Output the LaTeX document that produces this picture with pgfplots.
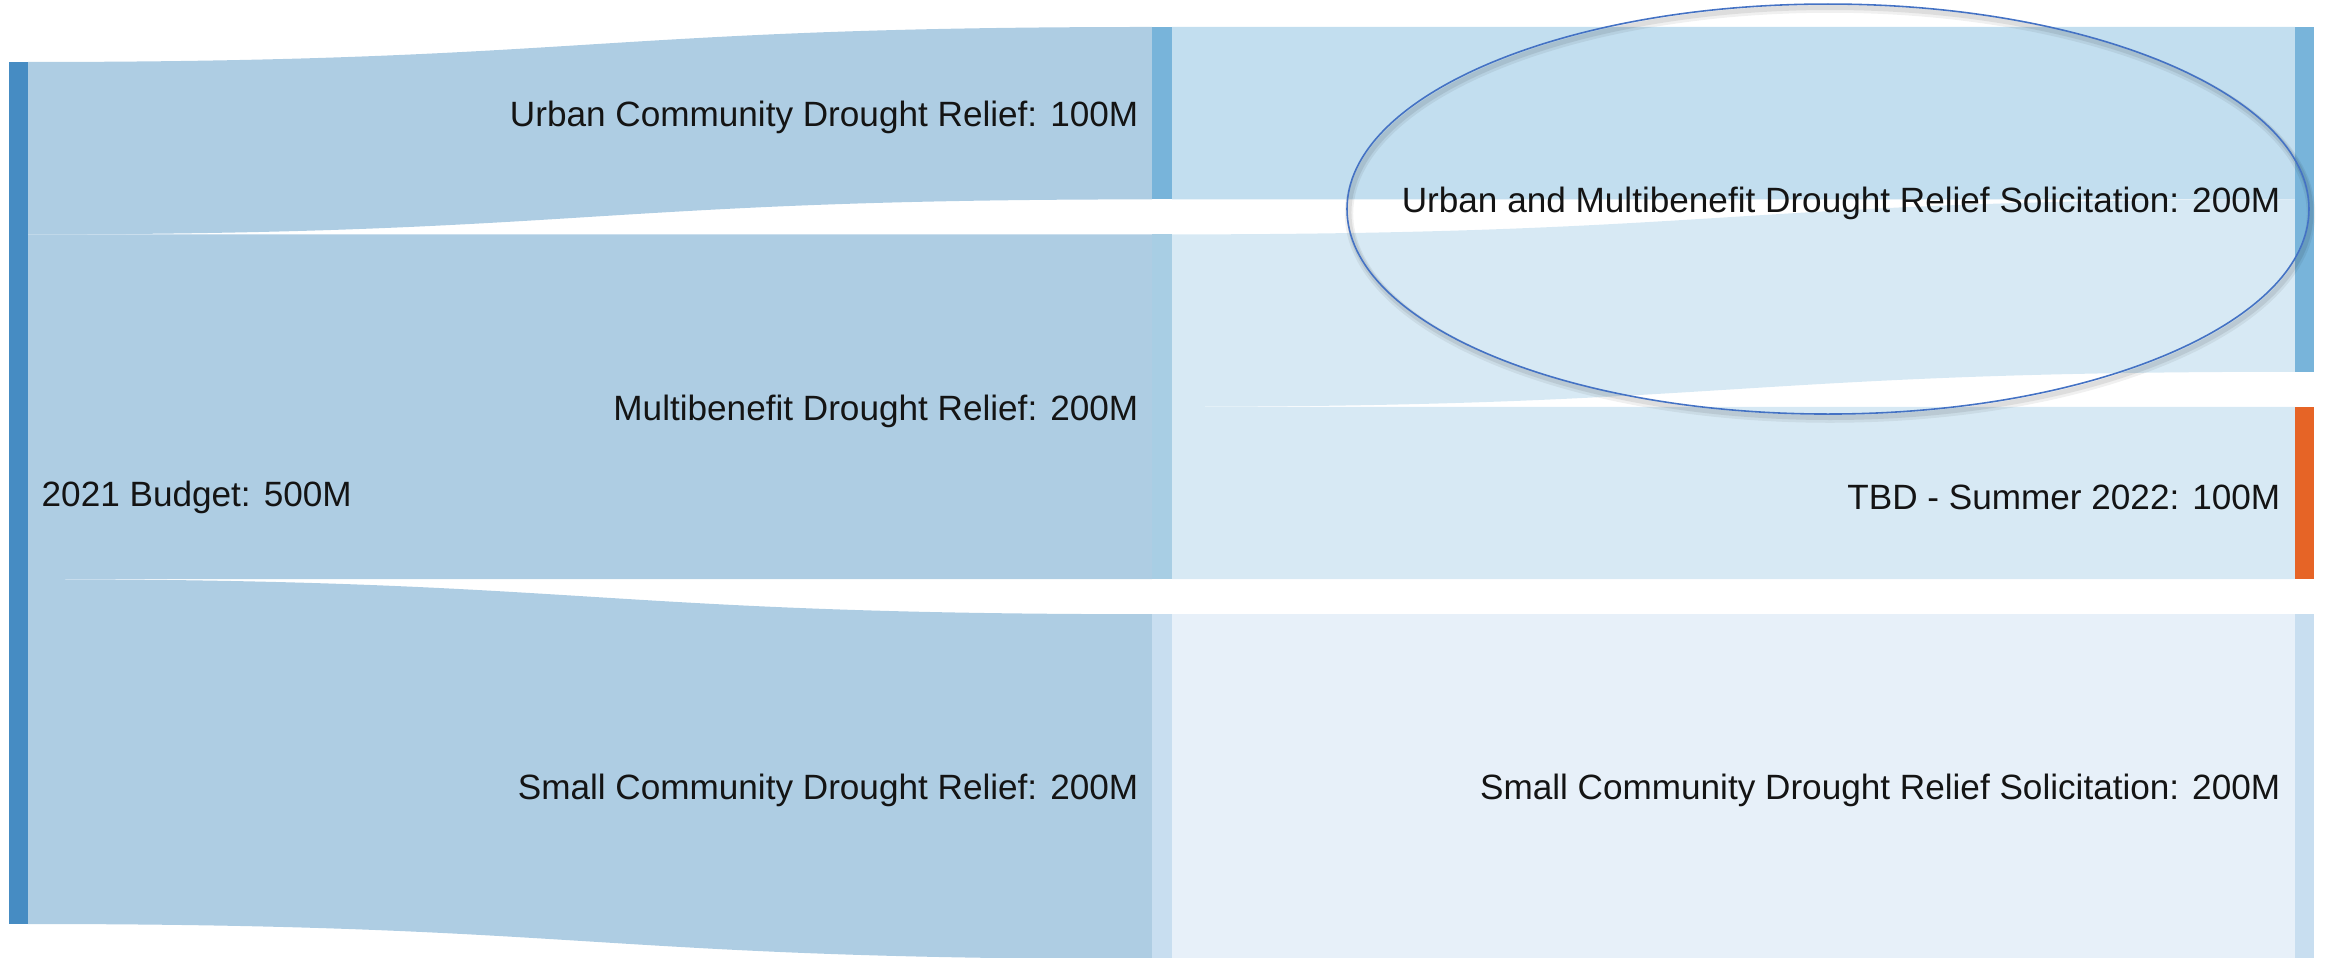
\documentclass[border=0pt]{standalone}
\usepackage{pgfplots}
\pgfplotsset{compat=1.18}
\usepackage{fontspec}
\setmainfont{Liberation Sans}
\definecolor{budget}{RGB}{70,140,195}
\definecolor{linkA}{RGB}{174,205,227}
\definecolor{urbanNode}{RGB}{120,180,218}
\definecolor{multiNode}{RGB}{168,206,228}
\definecolor{smallNode}{RGB}{200,222,240}
\definecolor{linkUrban}{RGB}{194,222,239}
\definecolor{linkMulti}{RGB}{215,233,244}
\definecolor{linkSmall}{RGB}{231,240,249}
\definecolor{tbd}{RGB}{230,100,38}
\definecolor{ellblue}{RGB}{68,114,196}
\definecolor{txt}{RGB}{20,20,20}
% link: x0, x1, xmid, y0top, y0bot, y1top, y1bot, colour
\newcommand{\link}[8]{%
  \fill[#8] (axis cs:#1,#4) .. controls (axis cs:#3,#4) and (axis cs:#3,#6) .. (axis cs:#2,#6)
    -- (axis cs:#2,#7) .. controls (axis cs:#3,#7) and (axis cs:#3,#5) .. (axis cs:#1,#5) -- cycle;}
\begin{document}
\begin{tikzpicture}
\begin{axis}[
  width=232.5mm, height=95.8mm, scale only axis,
  hide axis, xmin=0, xmax=2325, ymin=-15.66, ymax=540.0, y dir=reverse,
  clip=true,
]
% links, budget -> second column
\link{28}{1152}{590}{20.3}{120.3}{0}{100}{linkA}
\link{28}{1152}{590}{120.3}{320.3}{120.3}{320.3}{linkA}
\link{28}{1152}{590}{320.3}{520.3}{340.6}{540.6}{linkA}
% links, second column -> third column
\link{1172}{2295}{1733.5}{0}{100}{0}{100}{linkUrban}
\link{1172}{2295}{1733.5}{120.3}{220.3}{100}{200}{linkMulti}
\link{1172}{2295}{1733.5}{220.3}{320.3}{220.3}{320.3}{linkMulti}
\link{1172}{2295}{1733.5}{340.6}{540.6}{340.6}{540.6}{linkSmall}
% nodes
\addplot[fill=budget, draw=none] coordinates {(9,20.3) (28,20.3) (28,520.3) (9,520.3)};
\addplot[fill=urbanNode, draw=none] coordinates {(1152,0) (1172,0) (1172,100) (1152,100)};
\addplot[fill=multiNode, draw=none] coordinates {(1152,120.3) (1172,120.3) (1172,320.3) (1152,320.3)};
\addplot[fill=smallNode, draw=none] coordinates {(1152,340.6) (1172,340.6) (1172,540.6) (1152,540.6)};
\addplot[fill=urbanNode, draw=none] coordinates {(2295,0) (2314,0) (2314,200) (2295,200)};
\addplot[fill=tbd, draw=none] coordinates {(2295,220.3) (2314,220.3) (2314,320.3) (2295,320.3)};
\addplot[fill=smallNode, draw=none] coordinates {(2295,340.6) (2314,340.6) (2314,540.6) (2295,540.6)};
% labels
\tikzset{lab/.style={font=\fontsize{10}{12}\selectfont, text=txt, inner sep=0pt}}
\node[lab, anchor=west] at (axis cs:41,272.8) {2021 Budget: 500M};
\node[lab, anchor=east] at (axis cs:1139,52.5) {Urban Community Drought Relief: 100M};
\node[lab, anchor=east] at (axis cs:1139,222.8) {Multibenefit Drought Relief: 200M};
\node[lab, anchor=east] at (axis cs:1139,443.1) {Small Community Drought Relief: 200M};
\node[lab, anchor=east] at (axis cs:2281,102.5) {Urban and Multibenefit Drought Relief Solicitation: 200M};
\node[lab, anchor=east] at (axis cs:2281,272.8) {TBD - Summer 2022: 100M};
\node[lab, anchor=east] at (axis cs:2281,443.1) {Small Community Drought Relief Solicitation: 200M};
% annotation ellipse with soft shadow
\draw[black, opacity=0.06, line width=2.4pt] ([xshift=0.2mm,yshift=-0.45mm]axis cs:1828,105.6) ellipse [x radius=48.1mm, y radius=20.5mm];
\draw[black, opacity=0.08, line width=1.4pt] ([xshift=0.2mm,yshift=-0.35mm]axis cs:1828,105.6) ellipse [x radius=48.1mm, y radius=20.5mm];
\draw[ellblue, line width=0.45pt] (axis cs:1828,105.6) ellipse [x radius=48.1mm, y radius=20.5mm];
\end{axis}
\pgfresetboundingbox
\useasboundingbox (current axis.south west) rectangle (current axis.north east);
\end{tikzpicture}
\end{document}
